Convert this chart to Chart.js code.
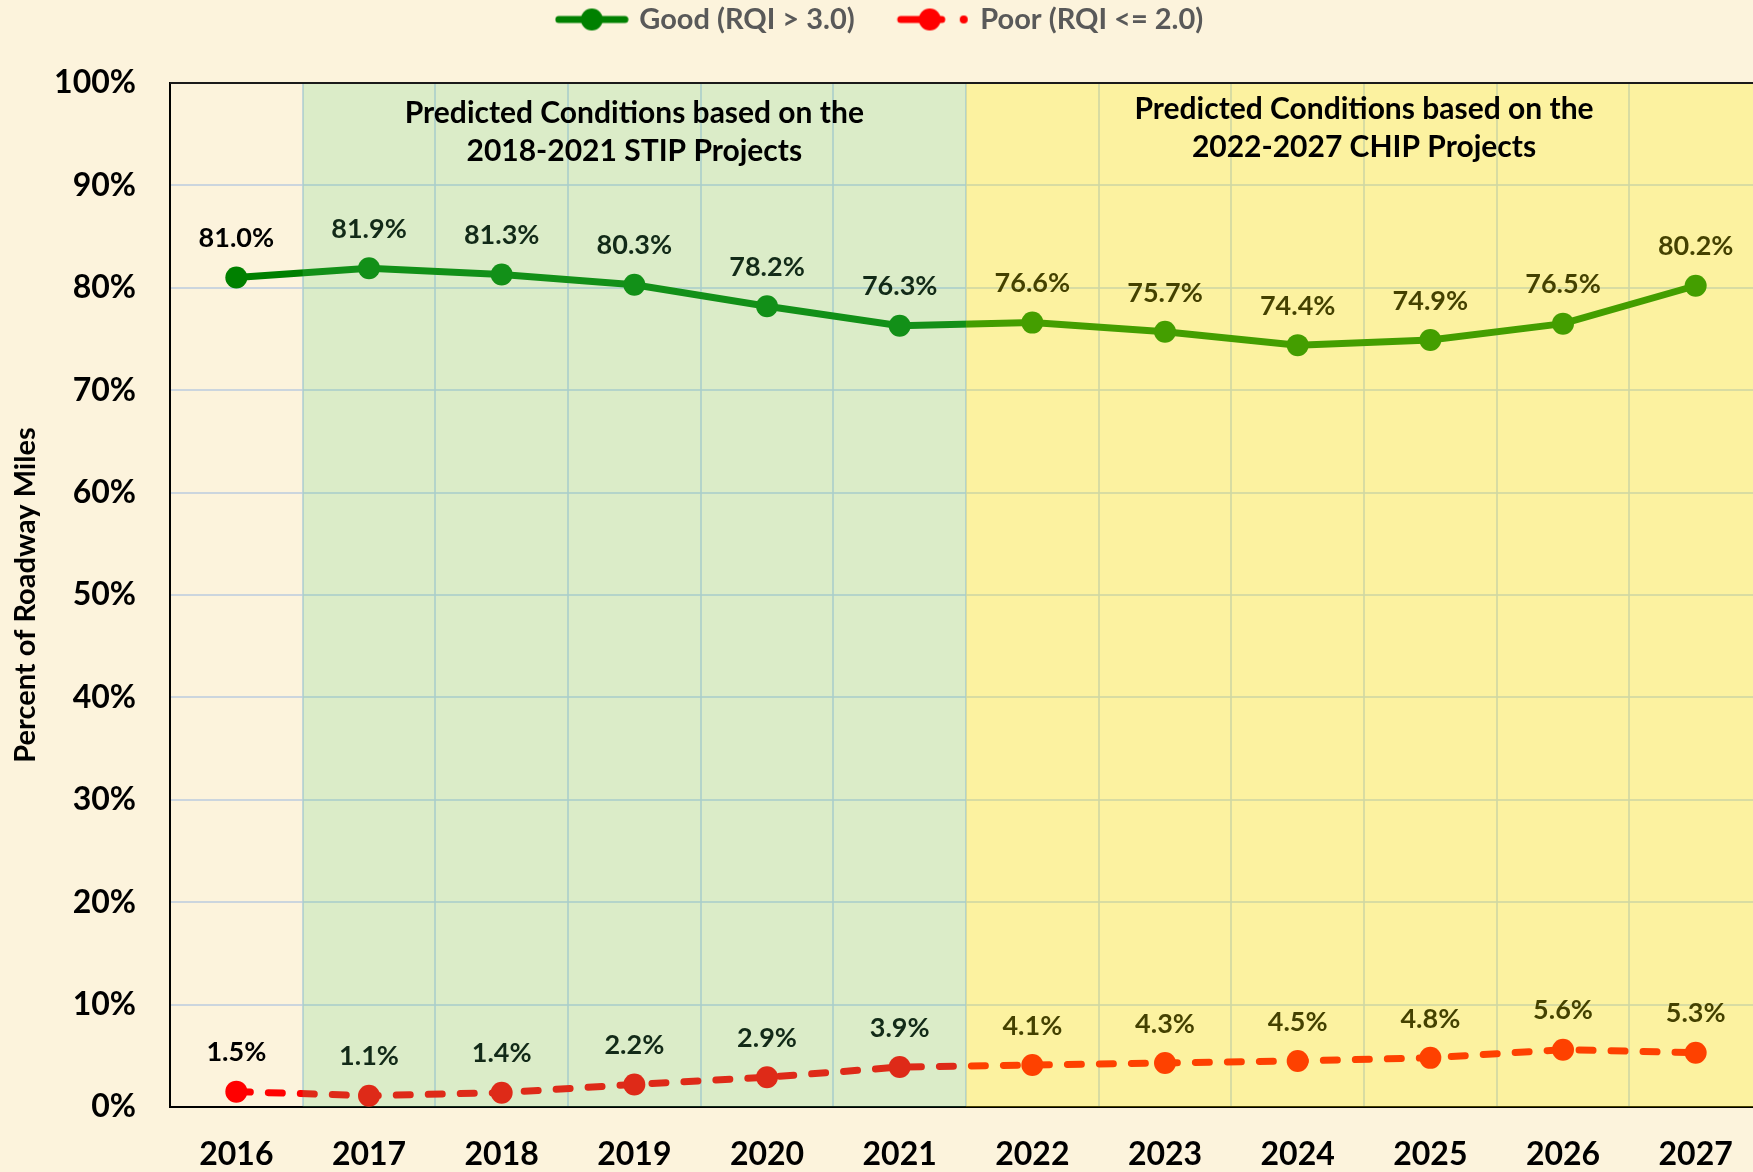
<!DOCTYPE html>
<html>
<head>
<meta charset="utf-8">
<script src="https://cdn.jsdelivr.net/npm/chart.js@4.4.0/dist/chart.umd.min.js"></script>
<style>
  html, body { margin: 0; padding: 0; overflow: hidden; background: #fcf3dc; }
  canvas { display: block; }
</style>
</head>
<body>
<canvas id="chart" width="1762" height="1172"></canvas>
<script>
const years = ['2016', '2017', '2018', '2019', '2020', '2021', '2022', '2023', '2024', '2025', '2026', '2027'];
const goodValues = [81.0, 81.9, 81.3, 80.3, 78.2, 76.3, 76.6, 75.7, 74.4, 74.9, 76.5, 80.2];
const poorValues = [1.5, 1.1, 1.4, 2.2, 2.9, 3.9, 4.1, 4.3, 4.5, 4.8, 5.6, 5.3];
const stipNote = ['Predicted Conditions based on the', '2018-2021 STIP Projects'];
const chipNote = ['Predicted Conditions based on the', '2022-2027 CHIP Projects'];

const FONT = 'Lato, "Open Sans", sans-serif';
const GREEN = '#008000';
const RED = '#ff0000';

// legend samples: line + marker drawn into small canvases
function legendSample(color, dashed) {
  const c = document.createElement('canvas');
  c.width = 74; c.height = 26;
  const g = c.getContext('2d');
  g.strokeStyle = color; g.fillStyle = color;
  g.lineWidth = 7; g.lineCap = 'round';
  if (dashed) {
    g.beginPath(); g.moveTo(5, 13); g.lineTo(26, 13); g.stroke();
    g.beginPath(); g.moveTo(34, 13); g.lineTo(46, 13); g.stroke();
    g.beginPath(); g.arc(68, 13, 4, 0, Math.PI * 2); g.fill();
  } else {
    g.beginPath(); g.moveTo(4, 13); g.lineTo(70, 13); g.stroke();
  }
  g.beginPath(); g.arc(dashed ? 34 : 37, 13, 11, 0, Math.PI * 2); g.fill();
  return c;
}
const samples = [legendSample(GREEN, false), legendSample(RED, true)];

const periodPlugin = {
  id: 'periods',
  afterDatasetsDraw(chart) {
    const { ctx, chartArea: a, scales: { x } } = chart;
    ctx.save();
    ctx.textAlign = 'center';
    ctx.textBaseline = 'middle';

    // value labels
    ctx.font = 'bold 27px ' + FONT;
    ctx.fillStyle = '#000';
    chart.data.datasets.forEach((ds, i) => {
      chart.getDatasetMeta(i).data.forEach((pt, j) => {
        ctx.fillText(ds.data[j].toFixed(1) + '%', pt.x, pt.y - 39);
      });
    });

    // shaded periods, drawn over lines like the original
    const half = (x.getPixelForValue(1) - x.getPixelForValue(0)) / 2;
    const g0 = x.getPixelForValue(1) - half;
    const g1 = x.getPixelForValue(5) + half;
    ctx.fillStyle = 'rgba(92,212,120,0.2)';
    ctx.fillRect(g0, a.top, g1 - g0, a.bottom - a.top);
    ctx.fillStyle = 'rgba(250,242,0,0.27)';
    ctx.fillRect(g1, a.top, a.right - g1, a.bottom - a.top);

    // top border of plot
    ctx.strokeStyle = '#1a1a1a';
    ctx.lineWidth = 2;
    ctx.beginPath(); ctx.moveTo(a.left, a.top); ctx.lineTo(a.right, a.top); ctx.stroke();

    // notes
    ctx.font = 'bold 30px ' + FONT;
    ctx.fillStyle = '#000';
    stipNote.forEach((t, k) => ctx.fillText(t, (g0 + g1) / 2, a.top + 30 + k * 38));
    chipNote.forEach((t, k) => ctx.fillText(t, (g1 + a.right) / 2, a.top + 26 + k * 38));
    ctx.restore();
  }
};

new Chart(document.getElementById('chart'), {
  type: 'line',
  data: {
    labels: years,
    datasets: [
      {
        label: 'Good (RQI > 3.0)',
        data: goodValues,
        borderColor: GREEN,
        backgroundColor: GREEN,
        borderWidth: 7,
        pointRadius: 11,
        pointHoverRadius: 11,
        pointBorderWidth: 0,
        tension: 0,
      },
      {
        label: 'Poor (RQI <= 2.0)',
        data: poorValues,
        borderColor: RED,
        backgroundColor: RED,
        borderWidth: 7,
        borderDash: [14, 18],
        borderCapStyle: 'round',
        pointRadius: 11,
        pointHoverRadius: 11,
        pointBorderWidth: 0,
        tension: 0,
      },
    ],
  },
  options: {
    responsive: false,
    animation: false,
    devicePixelRatio: 1,
    layout: { autoPadding: false, padding: { top: -40, left: 0, right: 0, bottom: 0 } },
    plugins: {
      tooltip: { enabled: false },
      legend: {
        position: 'top',
        labels: {
          usePointStyle: true,
          pointStyleWidth: 66,
          padding: 45,
          color: '#595959',
          font: { family: FONT, size: 29, weight: 'bold' },
          generateLabels(chart) {
            return Chart.defaults.plugins.legend.labels.generateLabels(chart)
              .map((item, i) => Object.assign(item, { pointStyle: samples[i] }));
          },
        },
      },
      // empty title used as a spacer between legend and plot
      title: {
        display: true,
        text: '',
        weight: 500,
        font: { size: 10 },
        padding: { top: 0, bottom: 27 },
      },
    },
    scales: {
      x: {
        offset: true,
        grid: {
          offset: true,
          color: 'rgba(190,205,222,0.8)',
          lineWidth: 2,
          drawTicks: true,
          tickLength: 28,
          tickColor: 'rgba(0,0,0,0)',
        },
        border: { color: '#000', width: 2 },
        ticks: { color: '#000', padding: 0, font: { family: FONT, size: 32, weight: 'bold' } },
        afterFit(s) { s.height = 65; },
      },
      y: {
        min: 0,
        max: 100,
        grid: { color: 'rgba(190,205,222,0.8)', lineWidth: 2, drawTicks: false },
        border: { color: '#000', width: 2 },
        ticks: {
          stepSize: 10,
          color: '#000',
          padding: 34,
          font: { family: FONT, size: 32, weight: 'bold' },
          callback: v => v + '%',
        },
        title: {
          display: true,
          text: 'Percent of Roadway Miles',
          color: '#000',
          font: { family: FONT, size: 29, weight: 'bold' },
          padding: { top: 8, bottom: 0 },
        },
        afterFit(s) { s.width = 170; },
      },
    },
  },
  plugins: [periodPlugin],
});
</script>
</body>
</html>
